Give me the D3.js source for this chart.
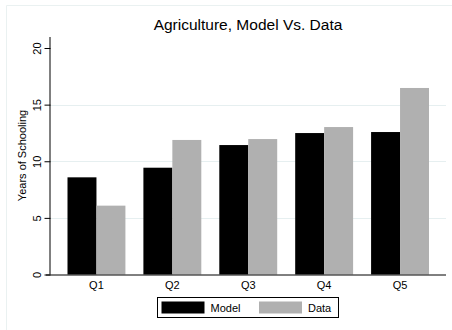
<!DOCTYPE html>
<html>
<head>
<meta charset="utf-8">
<script src="https://cdn.jsdelivr.net/npm/d3@7"></script>
<style>
  body { margin: 0; background: #fff; }
  text { font-family: "Liberation Sans", Arial, sans-serif; fill: #000; }
</style>
</head>
<body>
<div id="chart"></div>
<script>
// Data
const quintiles = ["Q1", "Q2", "Q3", "Q4", "Q5"];
const model = [8.58, 9.43, 11.43, 12.49, 12.58];
const data = [6.08, 11.88, 11.96, 13.02, 16.47];
const seriesNames = ["Model", "Data"];
const seriesColors = ["#000000", "#b0b0b0"];
const yTicks = [0, 5, 10, 15, 20];

const width = 452, height = 330;
const plot = { left: 50.5, right: 446, top: 48, bottom: 274.5 };

const svg = d3.select("#chart").append("svg")
    .attr("width", width)
    .attr("height", height);

// Outer frame (faint)
svg.append("path")
    .attr("d", `M6.5,${height} V5.5 H${width}`)
    .attr("fill", "none")
    .attr("stroke", "#eaf1f1");

// Scales
const x = d3.scaleBand()
    .domain(quintiles)
    .range([plot.left, plot.right])
    .paddingInner(0.237)
    .paddingOuter(0.224);

const xs = d3.scaleBand()
    .domain(seriesNames)
    .range([0, x.bandwidth()]);

const y = d3.scaleLinear()
    .domain([0, 20])
    .range([plot.bottom, plot.top]);

// Gridlines
svg.append("g")
    .selectAll("line")
    .data(yTicks.filter(d => d > 0 && d < 20))
    .join("line")
    .attr("x1", plot.left)
    .attr("x2", plot.right)
    .attr("y1", d => Math.round(y(d)) + 0.5)
    .attr("y2", d => Math.round(y(d)) + 0.5)
    .attr("stroke", "#e6eff0")
    .attr("stroke-width", 1.2);

// Bars
const rows = quintiles.map((q, i) => ({ q, values: [model[i], data[i]] }));

const groups = svg.append("g")
    .selectAll("g")
    .data(rows)
    .join("g")
    .attr("transform", d => `translate(${x(d.q)},0)`);

groups.selectAll("rect")
    .data(d => d.values.map((v, j) => ({ name: seriesNames[j], v, j })))
    .join("rect")
    .attr("x", d => xs(d.name))
    .attr("width", xs.bandwidth())
    .attr("y", d => y(d.v))
    .attr("height", d => y(0) - y(d.v))
    .attr("fill", d => seriesColors[d.j]);

// Y axis, tick labels turned vertical
const yAxis = d3.axisLeft(y).tickValues(yTicks).tickSize(6).tickPadding(4);
const gy = svg.append("g")
    .attr("transform", `translate(${plot.left},0)`)
    .call(yAxis);
gy.select(".domain").attr("d", `M-0.5,${plot.top - 11} V${plot.bottom}`).attr("stroke", "#000");
gy.selectAll(".tick line").attr("stroke", "#000");
gy.selectAll(".tick text")
    .attr("font-size", 11)
    .attr("x", 0)
    .attr("y", 0)
    .attr("dy", "-0.1em")
    .attr("text-anchor", "middle")
    .attr("transform", "translate(-8,0) rotate(-90)");

// X axis
const xAxis = d3.axisBottom(x).tickSize(0).tickPadding(7);
const gx = svg.append("g")
    .attr("transform", `translate(0,${plot.bottom})`)
    .call(xAxis);
gx.select(".domain").attr("d", `M46,0.5 H${plot.right}`).attr("stroke", "#000");
gx.selectAll(".tick text").attr("font-size", 11);

// Title
svg.append("text")
    .attr("x", 248)
    .attr("y", 30)
    .attr("text-anchor", "middle")
    .attr("font-size", 15.5)
    .text("Agriculture, Model Vs. Data");

// Y label
svg.append("text")
    .attr("transform", "translate(26,155.5) rotate(-90)")
    .attr("text-anchor", "middle")
    .attr("font-size", 11)
    .text("Years of Schooling");

// Legend
const legend = svg.append("g").attr("transform", "translate(157.5,297.5)");
legend.append("rect")
    .attr("width", 181)
    .attr("height", 20)
    .attr("fill", "#fff")
    .attr("stroke", "#000");

const items = legend.selectAll("g.item")
    .data(seriesNames)
    .join("g")
    .attr("class", "item")
    .attr("transform", (d, i) => `translate(${4 + i * 97.5},4)`);

items.append("rect")
    .attr("width", 43)
    .attr("height", 12)
    .attr("fill", (d, i) => seriesColors[i]);

items.append("text")
    .attr("x", 49)
    .attr("y", 10)
    .attr("font-size", 11)
    .text(d => d);
</script>
</body>
</html>
